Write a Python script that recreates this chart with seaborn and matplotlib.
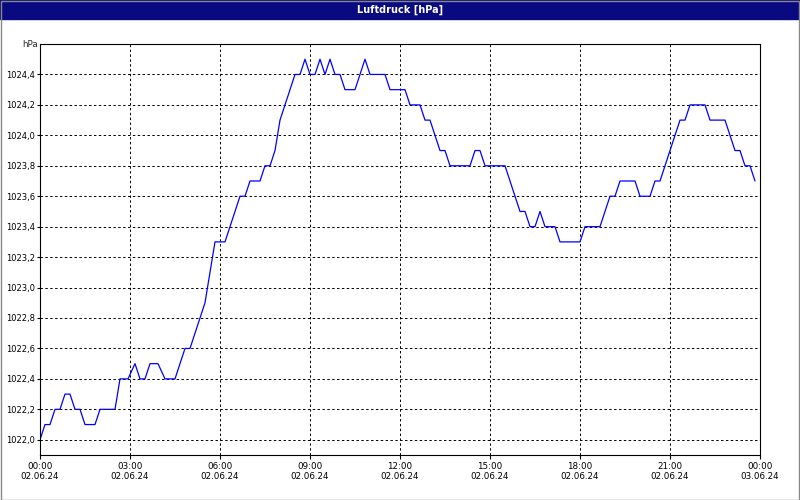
import matplotlib
matplotlib.use("Agg")
import matplotlib.pyplot as plt
import seaborn as sns
import pandas as pd
import numpy as np
from matplotlib.patches import Rectangle

# pixel-read x positions -> minutes after 00:00
px = [40,45,50,55,60,65,70,75,80,85,90,95,100,105,115,120,128,135,140,145,150,158,165,175,180,185,190,195,200,205,210,215,225,230,235,240,245,250,260,265,270,275,280,285,290,295,300,305,310,315,320,325,330,335,340,345,355,360,365,370,385,390,405,410,420,425,430,435,440,445,450,470,475,480,485,505,510,515,520,525,530,535,540,545,555,560,575,580,585,600,605,610,615,620,635,640,650,655,660,665,670,675,680,685,690,705,710,725,730,735,740,745,750,755]
pressure = [1022.0,1022.1,1022.1,1022.2,1022.2,1022.3,1022.3,1022.2,1022.2,1022.1,1022.1,1022.1,1022.2,1022.2,1022.2,1022.4,1022.4,1022.5,1022.4,1022.4,1022.5,1022.5,1022.4,1022.4,1022.5,1022.6,1022.6,1022.7,1022.8,1022.9,1023.1,1023.3,1023.3,1023.4,1023.5,1023.6,1023.6,1023.7,1023.7,1023.8,1023.8,1023.9,1024.1,1024.2,1024.3,1024.4,1024.4,1024.5,1024.4,1024.4,1024.5,1024.4,1024.5,1024.4,1024.4,1024.3,1024.3,1024.4,1024.5,1024.4,1024.4,1024.3,1024.3,1024.2,1024.2,1024.1,1024.1,1024.0,1023.9,1023.9,1023.8,1023.8,1023.9,1023.9,1023.8,1023.8,1023.7,1023.6,1023.5,1023.5,1023.4,1023.4,1023.5,1023.4,1023.4,1023.3,1023.3,1023.3,1023.4,1023.4,1023.5,1023.6,1023.6,1023.7,1023.7,1023.6,1023.6,1023.7,1023.7,1023.8,1023.9,1024.0,1024.1,1024.1,1024.2,1024.2,1024.1,1024.1,1024.0,1023.9,1023.9,1023.8,1023.8,1023.7]
hours = [(p - 40) / 30 for p in px]
xticks = [0, 3, 6, 9, 12, 15, 18, 21, 24]
xlabels = ["00:00\n02.06.24", "03:00\n02.06.24", "06:00\n02.06.24", "09:00\n02.06.24",
           "12:00\n02.06.24", "15:00\n02.06.24", "18:00\n02.06.24", "21:00\n02.06.24",
           "00:00\n03.06.24"]
yticks = [1022.0, 1022.2, 1022.4, 1022.6, 1022.8, 1023.0, 1023.2, 1023.4, 1023.6, 1023.8, 1024.0, 1024.2, 1024.4]

df = pd.DataFrame({"h": hours, "p": pressure})
sns.set_style("white")
plt.rcParams['font.family'] = ['DejaVu Sans']
fig = plt.figure(figsize=(8, 5), dpi=100)
fig.patch.set_facecolor("white")
fig.patches.append(Rectangle((0, 0.962), 1, 0.038, transform=fig.transFigure, color="#0a0a80", zorder=0))
fig.text(0.5, 0.981, "Luftdruck [hPa]", color="white", fontsize=7, fontweight="bold", ha="center", va="center")
fig.patches.append(Rectangle((0.001, 0.001), 0.998, 0.998, transform=fig.transFigure, fill=False, edgecolor="#888888", lw=1))

ax = fig.add_axes([0.05, 0.09, 0.9, 0.822])
sns.lineplot(data=df, x="h", y="p", ax=ax, color="#0000ff", lw=0.9)
ax.set_xlim(0, 24)
ax.set_ylim(1021.9, 1024.6)
ax.set_xticks(xticks)
ax.set_xticklabels(xlabels, fontsize=6.3, color="black")
ax.set_yticks(yticks)
ax.set_yticklabels([f"{v:.1f}".replace(".", ",") for v in yticks], fontsize=6.0, color="black")
ax.set_xlabel("")
ax.set_ylabel("")
ax.grid(True, color="black", ls=(0, (2.5, 2.5)), lw=0.7)
for s in ax.spines.values():
    s.set_color("black"); s.set_linewidth(0.8)
ax.tick_params(axis="y", length=2, pad=1.5, color="black", left=True)
ax.tick_params(axis="x", length=3, pad=2, color="black", bottom=True)
fig.text(0.047, 0.911, "hPa", fontsize=6.3, ha="right", va="center")
fig.savefig("out.png", dpi=100)
